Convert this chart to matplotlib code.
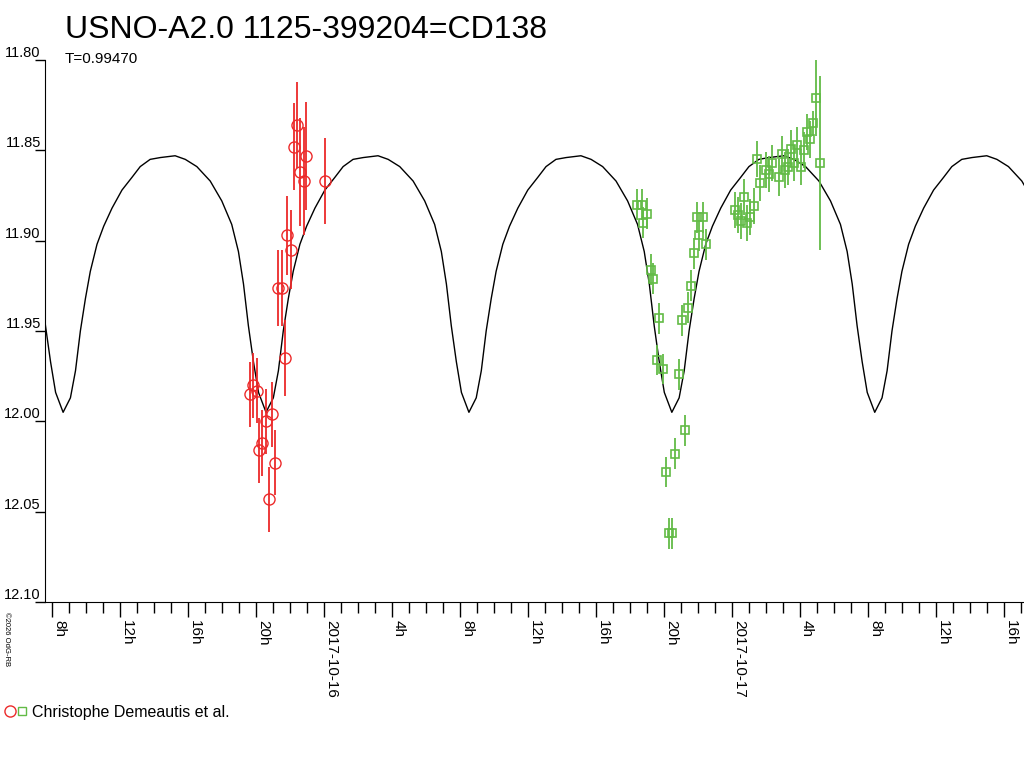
import numpy as np
import matplotlib
matplotlib.use("Agg")
from matplotlib import pyplot as plt
from matplotlib.lines import Line2D
from matplotlib.legend_handler import HandlerTuple
from matplotlib.ticker import MultipleLocator, FuncFormatter

plt.rcParams['font.family'] = ['Liberation Sans', 'DejaVu Sans']

# time in hours since 2017-10-15 00:00
red_hours = [19.65, 19.81, 20.04, 20.18, 20.37, 20.57, 20.75, 20.92, 21.12, 21.28,
             21.55, 21.69, 21.84, 22.06, 22.25, 22.43, 22.59, 22.84, 22.96, 24.04]
red_mag = [11.985, 11.980, 11.983, 12.016, 12.012, 12.000, 12.043, 11.996, 12.023, 11.926,
           11.926, 11.965, 11.897, 11.905, 11.848, 11.836, 11.862, 11.867, 11.853, 11.867]
red_err = [0.018, 0.018, 0.018, 0.018, 0.018, 0.018, 0.018, 0.018, 0.018, 0.021,
           0.021, 0.021, 0.022, 0.022, 0.024, 0.024, 0.030, 0.030, 0.030, 0.024]

green_hours = [42.39, 42.69, 42.78, 42.98, 43.22, 43.37, 43.57, 43.72, 43.92, 44.12,
               44.29, 44.49, 44.65, 44.86, 45.04, 45.22, 45.39, 45.57, 45.75, 45.96,
               46.08, 46.31, 46.50, 48.16, 48.35, 48.55, 48.71, 48.88, 49.08, 49.28,
               49.47, 49.65, 49.98, 50.16, 50.37, 50.76, 50.92, 51.12, 51.31, 51.45,
               51.66, 51.84, 52.06, 52.24, 52.41, 52.57, 52.75, 52.94, 53.18]
green_mag = [11.880, 11.880, 11.890, 11.885, 11.916, 11.921, 11.966, 11.943, 11.971, 12.028,
             12.062, 12.062, 12.018, 11.974, 11.944, 12.005, 11.937, 11.925, 11.907, 11.887,
             11.897, 11.887, 11.902, 11.883, 11.886, 11.889, 11.876, 11.890, 11.887, 11.881,
             11.855, 11.868, 11.861, 11.863, 11.857, 11.865, 11.852, 11.861, 11.859, 11.849,
             11.857, 11.847, 11.859, 11.850, 11.840, 11.844, 11.835, 11.821, 11.857]
green_err = [0.0085] * 23 + [0.010] * 23 + [0.007, 0.021, 0.048]

# model: one half period (min to min), period T in days
period_days = 0.99470
epoch_min = 20.59
model_phase = [0, 0.036, 0.061, 0.085, 0.110, 0.134, 0.167, 0.200, 0.241, 0.290, 0.339, 0.380, 0.429,
               0.479, 0.552, 0.602, 0.659, 0.725, 0.782, 0.831, 0.864, 0.889, 0.913, 0.938, 0.963, 1.0]
model_mag = [11.995, 11.987, 11.972, 11.950, 11.932, 11.917, 11.902, 11.892, 11.882, 11.872, 11.865,
             11.859, 11.855, 11.854, 11.853, 11.855, 11.859, 11.867, 11.878, 11.891, 11.906, 11.924,
             11.947, 11.967, 11.984, 11.995]

half = period_days * 24 / 2
mt, mm = [], []
for k in range(-2, 6):
    mt += [epoch_min + (k + p) * half for p in model_phase]
    mm += model_mag

red = '#ec2a2a'
green = '#62bb46'

fig = plt.figure(figsize=(10.24, 7.68), dpi=100)
ax = fig.add_axes([45 / 1024, 166 / 768, 979 / 1024, 542 / 768])

ax.plot(mt, mm, color='black', lw=1)
ax.errorbar(red_hours, red_mag, yerr=red_err, fmt='o', ms=8, mfc='none', mec=red, mew=1,
            ecolor=red, elinewidth=1.3, capsize=0)
ax.errorbar(green_hours, green_mag, yerr=green_err, fmt='s', ms=6, mfc='none', mec=green, mew=1.2,
            ecolor=green, elinewidth=1.3, capsize=0)

ax.set_xlim(7.588, 65.18)
ax.set_ylim(12.10, 11.80)
ax.set_yticks([11.80, 11.85, 11.90, 11.95, 12.00, 12.05, 12.10])
ax.yaxis.set_major_formatter(FuncFormatter(lambda v, pos: "%.2f" % v))
ax.xaxis.set_major_locator(MultipleLocator(4))
ax.xaxis.set_minor_locator(MultipleLocator(1))


def hour_label(v, pos):
    h = int(round(v))
    if h % 24 == 0:
        return "2017-10-%02d" % (15 + h // 24)
    return "%dh" % (h % 24)


ax.xaxis.set_major_formatter(FuncFormatter(hour_label))
for s in ['top', 'right']:
    ax.spines[s].set_visible(False)
ax.tick_params(axis='y', length=7, width=1, direction='out', pad=-4, labelsize=10.5)
ax.tick_params(axis='x', which='major', length=11, width=1, pad=2, labelsize=11)
ax.tick_params(axis='x', which='minor', length=8, width=1)
for lab in ax.get_yticklabels():
    lab.set_va('bottom')
for lab in ax.get_xticklabels():
    lab.set_rotation(270)
    lab.set_ha('left')
    lab.set_va('top')

fig.text(65 / 1024, 1 - 38 / 768, "USNO-A2.0 1125-399204=CD138", fontsize=23, va='baseline')
fig.text(65 / 1024, 1 - 63 / 768, "T=0.99470", fontsize=11, va='baseline')
fig.text(3 / 1024, 1 - 612 / 768, "©2026 OdG-RB", fontsize=5.5, rotation=270, va='top', ha='left')

h_red = Line2D([], [], marker='o', ls='none', ms=8, mfc='none', mec=red)
h_green = Line2D([], [], marker='s', ls='none', ms=6, mfc='none', mec=green)
fig.legend([(h_red, h_green)], ["Christophe Demeautis et al."],
           handler_map={tuple: HandlerTuple(ndivide=None, pad=0.1)},
           loc='center left', bbox_to_anchor=(0.0, 1 - 712 / 768), frameon=False,
           fontsize=11.5, handlelength=1.5, handletextpad=0.25, borderpad=0, borderaxespad=0.25)

fig.savefig("out.png", dpi=100)
